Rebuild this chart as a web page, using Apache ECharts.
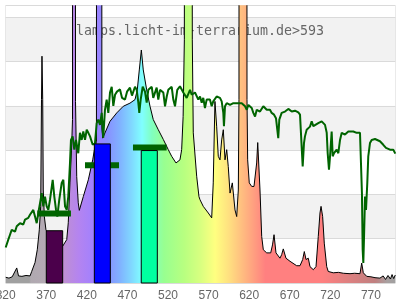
<!DOCTYPE html>
<html><head><meta charset="utf-8">
<script src="https://cdn.jsdelivr.net/npm/echarts@6/dist/echarts.min.js"></script>
<style>html,body{margin:0;padding:0;background:#fff}#c{width:400px;height:300px}</style>
</head><body><div id="c"></div>
<script>
// ---- data ----
const titleText = 'lamps.licht-im-terrarium.de>593';
const xTicks = [320, 370, 420, 470, 520, 570, 620, 670, 720, 770];

// lamp spectrum (wavelength nm, relative value)
const specNm  = [320,324,328,330.2,333.6,335.8,340,345,350,352,356.1,358.9,361.4,363.1,364.1,364.7,365.6,366.3,367.6,369.6,375,380.7,386,390.2,395.2,397.1,399.2,401.1,402.3,402.7,405.5,406,407.5,409.4,410.7,415.6,421.8,427.2,429.2,431.8,432.2,438,438.5,439.5,448.5,456.8,464.9,473.1,479.3,482.1,484.6,487.1,489.5,493.7,497.8,501.8,508,514.2,520.3,524.5,529.8,534.7,536.8,538.6,540.1,540.8,548.9,549.9,551.1,555.3,558.1,559.4,563.4,569.6,573.8,575.7,577.8,579.9,581.9,584,586.1,588.1,590.2,592.3,594.2,596.4,599.2,600.6,602.5,604.6,606.6,607.4,607.9,616.7,617.3,618.1,620.1,623.1,625.9,629.2,630.5,631.2,633.3,635.4,637.4,641.6,646.5,648.7,650.6,653,657.9,660,662,665.3,670.3,678.5,682.6,685.9,687.9,690,692.8,694.9,699,702.3,705.1,707.2,708.5,710.5,712.5,715.5,717.4,723.6,730,736,744.2,750,756.5,758.6,760.6,764.8,770,775,781.1,785,788,791,794,796,798,800];
const specVal = [0.13,0.11,0.14,0.13,0.34,0.16,0.15,0.17,0.16,0.26,0.46,0.75,1.2,1.73,4.14,5.12,4.14,2.1,1.5,1.2,1.0,0.86,0.84,0.83,0.98,1.36,2.26,3.0,3.69,30,30,4.1,2.4,1.81,1.64,1.95,2.33,2.78,3.0,3.2,30,30,3.5,3.27,3.65,3.84,3.99,4.06,4.14,4.36,4.81,5.26,4.81,4.36,3.99,3.69,3.46,3.24,3.01,2.86,2.71,2.78,3.01,3.76,5.49,30,30,5.49,3.39,2.41,1.95,1.88,1.73,1.58,1.47,2.26,4.1,3.54,2.86,2.78,3.23,3.46,2.78,3.01,2.63,2.03,2.26,2.22,1.65,1.5,2.1,4.14,30,30,4.14,2.78,2.26,2.18,2.18,2.71,3.17,3.16,2.1,1.05,0.75,0.68,0.68,0.86,1.09,0.68,0.56,0.64,0.77,0.56,0.49,0.39,0.39,0.53,0.71,0.53,0.56,0.37,0.3,0.37,1.05,1.58,1.73,1.5,0.9,0.37,0.26,0.23,0.24,0.22,0.21,0.22,0.21,0.45,0.23,0.15,0.14,0.12,0.11,0.16,0.08,0.17,0.09,0.19,0.1,0.18,0.14];

// reference (daylight) curve
const sunNm  = [320,323.2,325.3,327.4,331.5,333.6,337.6,339.7,341.7,343.8,347.8,349.9,352,354,356.1,358.2,360.2,364.4,366.3,368.4,370.5,372.5,374.6,377.9,379.9,382,383.6,386,389,391,393.1,395.2,397.1,399.2,400.4,402.5,404.5,406.6,409.4,411.5,413.6,415.6,417.7,419.8,421.8,423.9,427.2,430,432.1,434.1,436.2,438.3,440.2,442.3,444.4,446.4,448.5,450.6,452.6,454.7,457.1,460.8,463.3,467,469.5,473.1,475.6,479.3,481.4,483.4,484.6,486.3,488.8,491.6,493.7,495.7,499.9,501.8,506,508,510.1,514.2,516.3,518.4,520.3,524.5,526.5,528.6,531.4,534.7,538.8,543,547.1,549.2,553.2,557.3,559.4,561.5,563.4,565.5,567.6,571.6,573.8,575.7,579.9,581.9,584,586.1,588.1,588.9,590.2,592.3,596.4,598.4,600.5,602.5,604.6,606.6,610.8,614.9,617,619,621.1,623.1,625.1,627.2,629.3,633.3,637.4,641.6,645.6,647.7,650.6,653,654.6,655.8,657.1,660,664.1,668.2,672.4,676.4,680.5,682.6,684.7,685.9,687.5,688.7,690.8,694.9,697,699,701.1,705.1,709.3,713.4,715.5,716.7,718.3,719.6,721.6,722.9,724.5,727.8,729.8,731.9,734,738,742.1,744.2,748.3,752.4,756.5,758.6,758.9,759.8,760.6,761.5,762.7,763.9,765.5,766.7,768.8,770.9,775,781.1,785.2,788.5,793.5,797.5,800];
const sunVal = [0.8,0.98,1.09,1.2,1.16,1.28,1.35,1.39,1.32,1.43,1.47,1.54,1.58,1.65,1.5,1.35,1.58,2.03,1.73,1.95,1.73,1.65,1.88,2.33,1.95,1.65,1.5,1.88,2.26,2.33,1.73,1.65,1.95,2.71,3.23,3.31,3.01,3.23,2.93,3.39,3.23,3.42,3.23,3.46,3.39,3.31,3.12,3.16,3.61,3.69,3.57,3.84,3.28,3.91,4.14,3.84,4.3,4.43,4.0,4.25,4.32,4.37,4.18,4.14,4.32,4.41,4.23,4.43,4.36,4.07,3.84,4.14,4.43,4.32,4.07,4.36,4.43,4.18,4.41,4.14,4.36,4.3,3.99,4.21,4.36,4.43,4.14,3.99,4.36,4.44,4.3,4.18,4.36,4.25,4.3,4.14,4.21,4.07,4.18,3.95,4.14,4.14,3.99,4.1,4.21,4.25,4.18,4.1,3.84,3.54,3.99,4.06,4.02,3.99,4.06,4.02,4.06,4.1,4.06,3.99,3.91,4.02,4.06,3.95,3.84,3.76,3.91,3.87,3.99,3.91,3.91,3.84,3.8,3.72,3.46,3.27,3.69,3.84,3.87,3.93,3.87,3.89,3.85,3.8,3.76,2.63,3.16,3.31,3.46,3.53,3.65,3.54,3.57,3.61,3.65,3.57,3.39,2.93,2.56,2.86,3.42,2.86,2.93,3.01,2.93,3.23,3.39,3.35,3.42,3.46,3.42,3.39,3.39,3.35,2.03,0.75,0.45,1.05,1.95,1.65,2.26,2.86,3.16,3.23,3.25,3.2,3.12,3.05,3.01,3.01,2.92];

// band bars: [from nm, to nm], value
const barRanges = [[370, 390.2], [429.2, 448.9], [487, 506.8]];
const barValues = [1.18, 3.14, 2.99];
// band averages of the reference curve
const markRanges = [[359, 400.4], [417.7, 459.6], [476.8, 518.3]];
const markValues = [1.57, 2.66, 3.06];

// ---- styles ----
const barColors = ['#4b004b', '#0000ff', '#00ffa0'];
const specStops = [
  [320,'#a0a0a0'],[349,'#a0a0a0'],[351,'#b0a9b0'],[370,'#b4aab4'],[390,'#c090d0'],
  [410,'#b484f0'],[430,'#a080ff'],[445,'#8890ff'],[460,'#80b0ff'],[475,'#80d8ff'],
  [488,'#80ffff'],[500,'#80ffc0'],[515,'#98ff90'],[540,'#b8ff80'],[560,'#d8ff80'],
  [578,'#ffff80'],[595,'#ffe080'],[610,'#ffc080'],[625,'#ffa080'],[640,'#ff8080'],
  [710,'#ff8080'],[740,'#e08080'],[775,'#c08080'],[790,'#a8a0a0'],[800,'#a0a0a0']
];
const X_MIN = 320, X_MAX = 800;

const chart = echarts.init(document.getElementById('c'), null, {renderer: 'canvas'});
const zip = (a, b) => a.map((v, i) => [v, b[i]]);

chart.setOption({
  animation: false,
  grid: {left: 5.7, right: 4.7, top: 5.7, bottom: 17, containLabel: false, outerBoundsMode: 'none',
    show: true, borderColor: '#dadada', borderWidth: 1, backgroundColor: 'transparent'},
  graphic: [{
    type: 'text', z: 1, x: 200, y: 32,
    style: {text: titleText, align: 'center', verticalAlign: 'middle', fontSize: 13.3, fontFamily: 'DejaVu Sans Mono', fill: '#666'}
  }],
  xAxis: {
    type: 'value', min: X_MIN, max: X_MAX, interval: 50,
    axisLine: {show: false}, axisTick: {show: false}, splitLine: {show: false},
    axisLabel: {color: '#666', fontSize: 12, margin: 7, showMaxLabel: false, hideOverlap: false,
      formatter: v => (xTicks.indexOf(v) >= 0 ? String(v) : '')}
  },
  yAxis: {
    type: 'value', min: 0, max: 6.26, interval: 1,
    axisLine: {show: false}, axisTick: {show: false}, axisLabel: {show: false},
    splitLine: {show: true, lineStyle: {color: '#dadada', width: 1}},
    splitArea: {show: true, areaStyle: {color: ['#ffffff', '#f2f2f2']}}
  },
  series: [
    {
      type: 'line', data: zip(specNm, specVal), symbol: 'none', z: 2, clip: true,
      lineStyle: {color: '#000', width: 1},
      areaStyle: {opacity: 1, color: new echarts.graphic.LinearGradient(0, 0, 1, 0,
        specStops.map(s => ({offset: (s[0] - X_MIN) / (X_MAX - X_MIN), color: s[1]})))}
    },
    {
      type: 'line', data: zip(sunNm, sunVal), symbol: 'none', z: 3, clip: true,
      lineStyle: {color: '#006400', width: 2}
    },
    {
      type: 'custom', z: 4,
      data: markRanges.map((r, i) => [r[0], r[1], markValues[i]]),
      encode: {x: [0, 1], y: 2},
      renderItem: (params, api) => {
        const a = api.coord([api.value(0), api.value(2)]);
        const b = api.coord([api.value(1), api.value(2)]);
        return {type: 'rect', shape: {x: a[0], y: a[1] - 3, width: b[0] - a[0], height: 6}, style: {fill: '#006400'}};
      }
    },
    {
      type: 'custom', z: 5,
      data: barRanges.map((r, i) => [r[0], r[1], barValues[i]]),
      encode: {x: [0, 1], y: 2},
      renderItem: (params, api) => {
        const a = api.coord([api.value(0), api.value(2)]);
        const b = api.coord([api.value(1), 0]);
        return {type: 'rect', shape: {x: a[0], y: a[1], width: b[0] - a[0], height: b[1] - a[1]},
          style: {fill: barColors[params.dataIndex], stroke: '#000', lineWidth: 1}};
      }
    }
  ]
});
</script></body></html>
